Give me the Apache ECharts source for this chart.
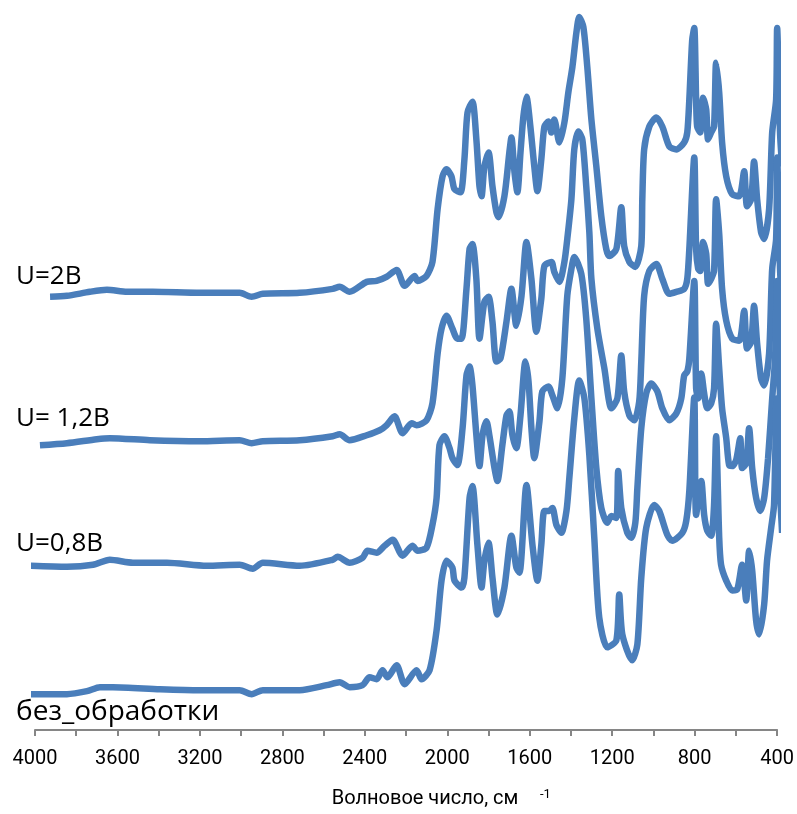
<!DOCTYPE html>
<html>
<head>
<meta charset="utf-8">
<script src="https://cdn.jsdelivr.net/npm/echarts@6/dist/echarts.min.js"></script>
<style>
html, body { margin: 0; padding: 0; background: #fff; }
#chartTest { width: 797px; height: 814px; }
</style>
</head>
<body>
<div id="chartTest"></div>
<script>
// подписи кривых (сверху вниз)
var curveNames = ['U=2В', 'U= 1,2В', 'U=0,8В', 'без_обработки'];

// [волновое число, см-1 ; условная интенсивность со смещением]
var spectrumU2 = [
	[3927, 43.5], [3845, 43.6], [3734, 44.0], [3651, 44.2], [3554, 44.0], [3428, 44.0], [3200, 43.9], [3007, 43.9],
	[2949, 43.5], [2895, 43.8], [2716, 43.9], [2556, 44.3], [2522, 44.5], [2474, 44.0], [2391, 45.0], [2343, 45.1],
	[2295, 45.5], [2246, 46.2], [2207, 44.6], [2159, 45.6], [2144, 45.1], [2101, 45.6], [2072, 47.0], [2047, 52.3],
	[2023, 55.6], [2004, 56.3], [1980, 55.6], [1965, 54.3], [1936, 54.0], [1917, 57.3], [1902, 62.0], [1878, 63.1],
	[1859, 59.3], [1844, 54.6], [1834, 53.6], [1820, 56.6], [1800, 58.0], [1781, 54.6], [1762, 52.0], [1752, 51.5],
	[1723, 53.6], [1699, 58.0], [1689, 59.5], [1674, 56.0], [1660, 54.0], [1645, 58.0], [1631, 61.6], [1616, 63.6],
	[1597, 60.6], [1578, 56.6], [1563, 54.1], [1544, 57.3], [1529, 60.6], [1510, 61.1], [1495, 60.0], [1481, 61.3],
	[1456, 59.0], [1432, 61.0], [1413, 64.0], [1393, 66.6], [1374, 70.0], [1360, 71.6], [1340, 70.6], [1321, 66.6],
	[1301, 61.3], [1277, 56.6], [1253, 51.6], [1229, 48.3], [1214, 47.6], [1180, 48.3], [1156, 52.5], [1142, 48.6],
	[1117, 47.0], [1088, 46.5], [1059, 48.6], [1054, 53.3], [1045, 58.3], [1020, 60.6], [986, 61.5], [957, 60.6],
	[923, 58.6], [889, 58.3], [851, 59.0], [836, 60.0], [826, 63.3], [812, 69.3], [802, 70.5], [793, 63.3],
	[788, 60.6], [773, 60.0], [759, 63.5], [744, 62.3], [735, 59.3], [720, 60.0], [706, 60.6], [696, 67.0],
	[681, 64.0], [667, 59.0], [647, 55.6], [618, 53.8], [584, 53.6], [560, 56.1], [546, 52.6], [526, 53.3],
	[512, 57.1], [497, 53.3], [478, 50.0], [463, 49.3], [439, 52.3], [424, 60.0], [405, 63.3], [400, 70.5],
	[386, 60.0], [376, 56.6]
];

var spectrumU12 = [
	[3976, 28.6], [3845, 28.8], [3700, 29.2], [3637, 29.3], [3443, 29.1], [3201, 29.0], [3007, 29.1], [2949, 28.8],
	[2895, 29.0], [2716, 29.1], [2556, 29.5], [2522, 29.7], [2474, 29.1], [2391, 29.6], [2328, 30.1], [2295, 30.6],
	[2256, 31.5], [2217, 29.8], [2173, 30.8], [2149, 30.6], [2101, 31.1], [2072, 32.8], [2047, 37.8], [2028, 40.3],
	[2004, 41.6], [1975, 40.3], [1951, 39.3], [1931, 39.3], [1907, 44.3], [1892, 48.3], [1878, 48.8], [1859, 45.3],
	[1844, 39.3], [1820, 43.0], [1800, 43.5], [1781, 41.0], [1762, 37.0], [1742, 37.3], [1713, 41.0], [1689, 44.3],
	[1665, 40.6], [1640, 43.6], [1616, 49.0], [1592, 45.3], [1568, 40.0], [1544, 43.3], [1529, 46.6], [1495, 47.0],
	[1481, 46.0], [1456, 45.0], [1432, 47.0], [1418, 49.3], [1398, 53.3], [1384, 58.3], [1364, 60.1], [1345, 59.3],
	[1326, 54.6], [1311, 50.0], [1301, 45.3], [1272, 40.3], [1238, 36.3], [1204, 32.3], [1175, 33.3], [1156, 37.6],
	[1142, 34.0], [1117, 31.6], [1093, 31.1], [1069, 33.0], [1059, 37.0], [1045, 43.6], [1020, 46.1], [986, 46.8],
	[957, 45.3], [923, 43.8], [889, 44.0], [851, 44.3], [836, 45.3], [826, 48.3], [802, 57.5], [793, 48.3],
	[783, 46.3], [773, 46.1], [759, 49.0], [744, 47.8], [735, 44.8], [720, 45.3], [706, 46.1], [696, 53.3],
	[681, 49.8], [667, 44.3], [647, 41.1], [618, 39.3], [584, 39.1], [560, 42.1], [546, 38.3], [526, 39.0],
	[512, 42.6], [497, 38.8], [478, 35.3], [463, 34.6], [439, 37.8], [424, 46.3], [405, 49.3], [400, 57.5],
	[386, 46.3], [376, 42.8]
];

var spectrumU08 = [
	[4020, 16.5], [3845, 16.4], [3719, 16.6], [3637, 17.1], [3525, 16.8], [3360, 16.8], [3167, 16.5], [3007, 16.6],
	[2944, 16.2], [2895, 16.8], [2716, 16.5], [2556, 17.1], [2532, 17.4], [2474, 16.8], [2411, 17.3], [2387, 18.0],
	[2343, 17.8], [2304, 18.5], [2265, 19.1], [2217, 17.5], [2169, 18.5], [2144, 18.0], [2101, 18.3], [2072, 20.6],
	[2052, 23.3], [2038, 28.6], [2014, 29.5], [1989, 28.3], [1975, 27.3], [1951, 26.6], [1926, 30.3], [1907, 35.6],
	[1892, 36.5], [1878, 34.6], [1859, 29.6], [1844, 26.5], [1829, 29.6], [1810, 31.0], [1796, 29.6], [1771, 26.3],
	[1757, 25.0], [1733, 28.6], [1713, 31.6], [1699, 32.0], [1684, 29.6], [1665, 28.3], [1645, 31.6], [1621, 37.0],
	[1606, 35.0], [1592, 30.3], [1578, 27.3], [1553, 31.0], [1539, 34.0], [1510, 34.5], [1490, 33.6], [1466, 32.3],
	[1442, 35.3], [1418, 43.6], [1398, 46.3], [1384, 47.5], [1350, 45.8], [1326, 41.3], [1301, 33.3], [1277, 26.3],
	[1253, 22.3], [1224, 20.8], [1204, 21.5], [1180, 21.3], [1171, 26.0], [1156, 22.3], [1127, 19.8], [1108, 19.3],
	[1088, 20.8], [1078, 24.3], [1059, 30.3], [1035, 33.8], [1011, 34.8], [981, 34.0], [957, 32.3], [923, 31.1],
	[889, 31.8], [865, 33.3], [851, 35.6], [836, 36.0], [826, 37.3], [802, 45.1], [793, 34.3], [783, 33.3],
	[768, 35.8], [754, 33.8], [739, 32.3], [720, 32.8], [706, 34.3], [696, 40.8], [681, 36.3], [667, 32.3],
	[647, 29.3], [633, 26.6], [618, 26.5], [599, 27.1], [579, 29.3], [570, 26.3], [550, 26.8], [536, 30.3],
	[521, 26.3], [502, 23.3], [482, 22.0], [463, 23.3], [444, 27.3], [424, 33.3], [410, 37.3], [400, 45.1],
	[386, 33.3], [376, 30.3]
];

var spectrumRaw = [
	[4020, 3.6], [3845, 3.6], [3748, 3.9], [3685, 4.3], [3622, 4.3], [3394, 4.1], [3201, 4.0], [3007, 4.0],
	[2949, 3.6], [2895, 4.0], [2716, 4.0], [2585, 4.5], [2522, 4.8], [2474, 4.3], [2411, 4.5], [2377, 5.3],
	[2343, 5.1], [2314, 6.0], [2290, 5.3], [2246, 6.5], [2207, 4.6], [2149, 6.0], [2125, 5.1], [2086, 6.0],
	[2052, 10.0], [2028, 15.0], [2004, 17.0], [1975, 16.3], [1965, 15.0], [1931, 14.3], [1917, 15.3], [1892, 23.3],
	[1878, 24.5], [1854, 18.6], [1834, 14.3], [1820, 17.0], [1800, 18.8], [1781, 15.3], [1757, 11.6], [1723, 14.3],
	[1689, 19.5], [1665, 16.3], [1650, 15.8], [1616, 24.6], [1587, 18.6], [1563, 15.0], [1544, 18.6], [1529, 22.0],
	[1505, 22.0], [1490, 22.3], [1471, 20.6], [1447, 19.8], [1422, 22.0], [1408, 25.3], [1384, 31.3], [1360, 35.1],
	[1335, 33.3], [1311, 27.6], [1287, 19.3], [1263, 11.3], [1224, 8.3], [1180, 9.0], [1166, 13.6], [1151, 9.6],
	[1103, 7.0], [1078, 8.6], [1059, 15.3], [1035, 20.3], [996, 22.6], [972, 22.0], [933, 19.6], [909, 19.0],
	[860, 19.8], [841, 21.0], [826, 24.0], [802, 33.4], [793, 21.6], [768, 25.0], [754, 21.6], [739, 20.0],
	[720, 19.5], [706, 22.6], [696, 29.5], [681, 19.3], [672, 16.6], [647, 15.0], [618, 14.0], [594, 14.1],
	[570, 16.6], [550, 13.0], [536, 18.0], [521, 16.0], [502, 11.0], [487, 9.6], [463, 12.6], [449, 17.0],
	[429, 20.3], [415, 22.6], [402, 33.3], [386, 24.0], [376, 19.8]
];

var spectra = [spectrumU2, spectrumU12, spectrumU08, spectrumRaw];
// вертикальное положение и размер подписей (px)
var labelY = [277, 419, 544, 712];
var labelSize = [26, 26, 26, 28];

var myChart = echarts.init(document.getElementById('chartTest'));

var seriesList = [];
for (var i = 0; i < spectra.length; i++) {
	seriesList.push({
		name: curveNames[i],
		type: 'line',
		data: spectra[i],
		showSymbol: false,
		smooth: 0.25,
		clip: false,
		silent: true,
		lineStyle: {
			color: '#4a7ebb',
			width: 6.5
		}
	});
}

var graphics = [];
for (var j = 0; j < curveNames.length; j++) {
	graphics.push({
		type: 'text',
		x: 16,
		y: labelY[j],
		style: {
			text: curveNames[j],
			fill: '#000',
			fontFamily: 'Open Sans',
			fontSize: labelSize[j],
			verticalAlign: 'middle'
		}
	});
}
// показатель степени у "см"
graphics.push({
	type: 'text',
	x: 540,
	y: 788,
	style: {
		text: '-1',
		fill: '#000',
		fontFamily: 'Roboto',
		fontSize: 13
	}
});

var option = {
	backgroundColor: '#fff',
	animation: false,
	grid: {
		left: 35,
		right: 19,
		top: 13,
		bottom: 81
	},
	xAxis: {
		type: 'value',
		inverse: true,
		min: 400,
		max: 4000,
		interval: 400,
		name: 'Волновое число, см',
		nameLocation: 'middle',
		nameGap: 59,
		nameTextStyle: {
			color: '#000',
			fontFamily: 'Roboto',
			fontSize: 20,
			padding: [0, 0, 0, 38]
		},
		axisLine: {
			lineStyle: { color: '#868686', width: 2 }
		},
		axisTick: {
			show: true,
			length: 6,
			lineStyle: { color: '#868686', width: 2 }
		},
		minorTick: {
			show: true,
			splitNumber: 2,
			length: 6,
			lineStyle: { color: '#868686', width: 2 }
		},
		axisLabel: {
			color: '#000',
			fontFamily: 'Roboto',
			fontSize: 20,
			margin: 19,
			formatter: function(value) {
				return String(value);
			}
		},
		splitLine: { show: false },
		minorSplitLine: { show: false }
	},
	yAxis: {
		type: 'value',
		min: 0,
		max: 72,
		show: false
	},
	graphic: graphics,
	series: seriesList
};

myChart.setOption(option);
</script>
</body>
</html>
